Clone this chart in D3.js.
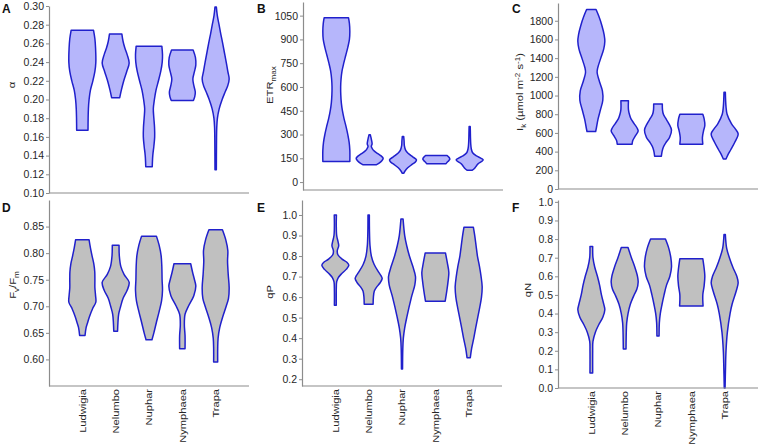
<!DOCTYPE html>
<html><head><meta charset="utf-8">
<script src="https://cdn.jsdelivr.net/npm/d3@7"></script>
<style>body{margin:0;background:#fff}svg{display:block}text{font-family:"Liberation Sans",Arial,Helvetica,sans-serif}</style>
</head><body>
<svg id="c" width="760" height="445"></svg>
<script>
const species = ["Ludwigia","Nelumbo","Nuphar","Nymphaea","Trapa"];

// Violin outlines: [value, relative half-width], read top to bottom
const alphaProfiles = [
  [[0.274,0.83],[0.265,0.93],[0.255,0.98],[0.24,1.0],[0.23,0.93],[0.22,0.78],[0.21,0.6],[0.20,0.5],[0.19,0.45],[0.18,0.43],[0.167,0.42]],
  [[0.270,0.46],[0.262,0.55],[0.255,0.68],[0.248,0.85],[0.239,1.0],[0.23,0.82],[0.22,0.6],[0.21,0.42],[0.202,0.3]],
  [[0.257,0.95],[0.248,1.0],[0.24,0.98],[0.23,0.87],[0.22,0.7],[0.21,0.52],[0.20,0.4],[0.19,0.32],[0.18,0.36],[0.17,0.41],[0.16,0.42],[0.15,0.36],[0.14,0.28],[0.128,0.24]],
  [[0.253,0.8],[0.245,0.97],[0.237,1.0],[0.23,0.9],[0.222,0.78],[0.215,0.85],[0.208,0.96],[0.203,0.92],[0.199,0.82]],
  [[0.299,0.05],[0.29,0.12],[0.28,0.25],[0.27,0.38],[0.26,0.52],[0.25,0.65],[0.24,0.78],[0.23,0.9],[0.222,1.0],[0.215,0.9],[0.208,0.7],[0.20,0.48],[0.19,0.26],[0.18,0.13],[0.17,0.08],[0.15,0.06],[0.125,0.05]]
];
const etrProfiles = [
  [[1037,0.9],[1000,0.97],[950,1.0],[900,0.97],[850,0.85],[800,0.7],[750,0.55],[700,0.42],[650,0.35],[600,0.32],[550,0.33],[500,0.37],[450,0.45],[400,0.57],[350,0.72],[300,0.85],[250,0.95],[200,1.0],[130,1.0]],
  [[298,0.05],[280,0.1],[260,0.15],[240,0.18],[225,0.12],[210,0.2],[195,0.35],[180,0.6],[165,0.85],[150,1.0],[135,0.9],[120,0.7],[109,0.48]],
  [[288,0.05],[260,0.08],[230,0.1],[200,0.2],[180,0.4],[160,0.7],[140,1.0],[125,0.9],[110,0.65],[90,0.35],[70,0.15],[55,0.05]],
  [[168,0.8],[155,0.95],[145,1.0],[135,0.92],[125,0.8],[116,0.72]],
  [[351,0.04],[320,0.05],[280,0.06],[240,0.08],[210,0.12],[185,0.22],[165,0.5],[150,0.85],[140,1.0],[128,0.85],[115,0.62],[100,0.48],[85,0.35],[75,0.2]]
];
const ikProfiles = [
  [[1920,0.35],[1850,0.55],[1750,0.78],[1650,0.95],[1580,1.0],[1500,0.92],[1400,0.7],[1300,0.48],[1250,0.43],[1150,0.6],[1050,0.82],[950,0.85],[850,0.68],[750,0.5],[650,0.37],[615,0.32]],
  [[945,0.28],[850,0.28],[800,0.35],[750,0.47],[700,0.7],[650,0.93],[620,1.0],[570,0.8],[520,0.6],[480,0.55]],
  [[910,0.32],[850,0.33],[800,0.4],[760,0.55],[700,0.8],[630,1.0],[550,0.85],[500,0.6],[450,0.4],[400,0.3],[350,0.25]],
  [[800,0.85],[750,0.95],[680,1.0],[620,0.9],[550,0.82],[480,0.85]],
  [[1035,0.05],[950,0.07],[880,0.1],[800,0.18],[700,0.5],[640,0.8],[590,1.0],[500,0.75],[420,0.45],[360,0.22],[320,0.1]]
];
const fvfmProfiles = [
  [[0.825,0.5],[0.81,0.6],[0.795,0.72],[0.78,0.85],[0.765,0.92],[0.75,0.93],[0.735,0.93],[0.72,0.98],[0.708,1.0],[0.695,0.75],[0.68,0.52],[0.67,0.4],[0.66,0.28],[0.645,0.2]],
  [[0.815,0.25],[0.795,0.27],[0.775,0.38],[0.76,0.62],[0.745,1.0],[0.73,0.85],[0.715,0.55],[0.70,0.37],[0.685,0.22],[0.67,0.17],[0.653,0.14]],
  [[0.832,0.55],[0.815,0.75],[0.795,0.9],[0.775,0.95],[0.75,0.97],[0.73,1.0],[0.71,0.93],[0.69,0.75],[0.67,0.55],[0.65,0.36],[0.637,0.22]],
  [[0.78,0.62],[0.765,0.75],[0.75,0.9],[0.738,1.0],[0.72,0.85],[0.70,0.45],[0.685,0.2],[0.665,0.15],[0.645,0.2],[0.62,0.2]],
  [[0.844,0.5],[0.825,0.75],[0.805,0.9],[0.785,0.88],[0.76,0.93],[0.735,1.0],[0.715,0.95],[0.70,0.78],[0.68,0.52],[0.66,0.3],[0.64,0.18],[0.62,0.15],[0.595,0.15]]
];
const qpProfiles = [
  [[1.0,0.08],[0.95,0.07],[0.9,0.1],[0.87,0.2],[0.85,0.25],[0.825,0.14],[0.805,0.2],[0.785,0.5],[0.77,0.85],[0.755,1.0],[0.735,0.8],[0.715,0.48],[0.695,0.22],[0.675,0.1],[0.63,0.07],[0.56,0.07]],
  [[1.0,0.05],[0.92,0.06],[0.85,0.1],[0.8,0.2],[0.76,0.4],[0.72,0.75],[0.70,0.95],[0.69,1.0],[0.67,0.85],[0.65,0.6],[0.63,0.42],[0.60,0.35],[0.565,0.33]],
  [[0.98,0.08],[0.9,0.2],[0.85,0.35],[0.8,0.55],[0.75,0.8],[0.70,1.0],[0.66,0.95],[0.6,0.7],[0.5,0.35],[0.45,0.2],[0.4,0.1],[0.35,0.06],[0.25,0.04]],
  [[0.815,0.75],[0.77,0.88],[0.72,1.0],[0.68,0.95],[0.63,0.85],[0.58,0.73]],
  [[0.94,0.35],[0.9,0.45],[0.85,0.55],[0.8,0.65],[0.75,0.8],[0.70,0.92],[0.65,1.0],[0.6,0.95],[0.55,0.82],[0.5,0.67],[0.45,0.52],[0.4,0.38],[0.35,0.22],[0.305,0.12]]
];
const qnProfiles = [
  [[0.76,0.1],[0.7,0.12],[0.65,0.25],[0.6,0.45],[0.55,0.62],[0.5,0.75],[0.45,0.92],[0.42,1.0],[0.38,0.85],[0.34,0.55],[0.3,0.3],[0.25,0.12],[0.2,0.1],[0.08,0.1]],
  [[0.755,0.25],[0.7,0.5],[0.65,0.75],[0.6,0.95],[0.57,1.0],[0.53,0.9],[0.5,0.7],[0.45,0.42],[0.4,0.25],[0.35,0.15],[0.3,0.12],[0.21,0.1]],
  [[0.8,0.55],[0.75,0.8],[0.7,0.95],[0.65,1.0],[0.6,0.88],[0.55,0.62],[0.5,0.45],[0.45,0.3],[0.4,0.17],[0.35,0.1],[0.28,0.08]],
  [[0.695,0.85],[0.63,0.97],[0.6,1.0],[0.55,0.95],[0.5,0.85],[0.44,0.87]],
  [[0.825,0.05],[0.75,0.15],[0.7,0.35],[0.65,0.6],[0.6,0.9],[0.565,1.0],[0.52,0.85],[0.45,0.55],[0.4,0.4],[0.3,0.2],[0.2,0.1],[0.1,0.06],[0.0,0.03]]
];

const alphaTicks = [0.10,0.12,0.14,0.16,0.18,0.20,0.22,0.24,0.26,0.28,0.30];
const etrTicks = [0,150,300,450,600,750,900,1050];
const ikTicks = [0,200,400,600,800,1000,1200,1400,1600,1800];
const fvfmTicks = [0.60,0.65,0.70,0.75,0.80,0.85];
const qpTicks = [0.2,0.3,0.4,0.5,0.6,0.7,0.8,0.9,1.0];
const qnTicks = [0.0,0.1,0.2,0.3,0.4,0.5,0.6,0.7,0.8,0.9,1.0];

const topFill = "#b6b6fb", botFill = "#c0c0c0", strokeCol = "#2020cc", axisCol = "#8c8c8c";

const panels = [
  {letter:"A", data:alphaProfiles, ticks:alphaTicks, fmt:".2f", domain:[0.10,0.30], range:[193,6], left:49, right:249, fill:topFill,
   lx:2, ly:13, title:[["α",0]], tx:15, ty:85, labels:false},
  {letter:"B", data:etrProfiles, ticks:etrTicks, fmt:"d", domain:[-50,1136], range:[190,2], left:303, right:503, fill:topFill,
   lx:257, ly:13, title:[["ETR",0],["max",1]], tx:273, ty:85, labels:false},
  {letter:"C", data:ikProfiles, ticks:ikTicks, fmt:"d", domain:[0,1990], range:[189,3], left:558, right:758, fill:topFill,
   lx:512, ly:13, title:[["I",0],["k",1],[" (µmol m",0],["-2",-1],[" s",0],["-1",-1],[")",0]], tx:523, ty:92, labels:false},
  {letter:"D", data:fvfmProfiles, ticks:fvfmTicks, fmt:".2f", domain:[0.55,0.90], range:[386,200], left:49, right:249, fill:botFill,
   lx:2, ly:212, title:[["F",0],["v",1],["/F",0],["m",1]], tx:16, ty:285, labels:true},
  {letter:"E", data:qpProfiles, ticks:qpTicks, fmt:".1f", domain:[0.167,1.073], range:[386,200], left:302, right:502, fill:botFill,
   lx:257, ly:212, title:[["qP",0]], tx:273, ty:292, labels:true},
  {letter:"F", data:qnProfiles, ticks:qnTicks, fmt:".1f", domain:[0,1.01], range:[388,200], left:558, right:758, fill:botFill,
   lx:512, ly:212, title:[["qN",0]], tx:531, ty:290, labels:true}
];

const svg = d3.select("#c");
const wScale = d3.scaleLinear().domain([0,1]).range([0,13.5]);

panels.forEach(p => {
  const g = svg.append("g");
  const y = d3.scaleLinear().domain(p.domain).range(p.range);
  const x = d3.scalePoint().domain(species).range([p.left, p.right]).padding(1);
  const bottom = p.range[0];

  // violins
  p.data.forEach((prof, i) => {
    const cx = x(species[i]);
    const area = d3.area()
      .y(d => y(d[0]))
      .x0(d => cx - wScale(d[1]))
      .x1(d => cx + wScale(d[1]))
      .curve(d3.curveCatmullRom.alpha(0.5));
    g.append("path").attr("d", area(prof))
      .attr("fill", p.fill).attr("stroke", strokeCol).attr("stroke-width", 1.5)
      .attr("stroke-linejoin", "round");
  });

  // y axis
  const ax = g.append("g").attr("transform", `translate(${p.left},0)`)
    .call(d3.axisLeft(y).tickValues(p.ticks).tickFormat(d3.format(p.fmt)).tickSize(3).tickPadding(2).tickSizeOuter(0));
  ax.select(".domain").attr("stroke", axisCol).attr("stroke-width", 1.2);
  ax.selectAll(".tick line").attr("stroke", axisCol);
  ax.selectAll(".tick text").attr("fill", "#262626").style("font-size", "10.5px").style("font-family", '"Liberation Sans",Arial,sans-serif');

  // x axis line
  g.append("line").attr("x1", p.left).attr("x2", p.right).attr("y1", bottom).attr("y2", bottom)
    .attr("stroke", axisCol).attr("stroke-width", 1.2);

  // category labels
  if (p.labels) {
    species.forEach(s => {
      g.append("text")
        .attr("transform", `translate(${x(s)+3.3},${bottom+3}) rotate(-90) scale(1.17,1)`)
        .attr("text-anchor", "end")
        .attr("fill", "#262626")
        .style("font-size", "9.5px")
        .text(s);
    });
  }

  // panel letter
  g.append("text").attr("x", p.lx).attr("y", p.ly).style("font-size", "12px").style("font-weight", "bold")
    .attr("fill", "#111").text(p.letter);

  // y title
  const t = g.append("text")
    .attr("transform", `translate(${p.tx},${p.ty}) rotate(-90) scale(1.25,1)`)
    .attr("text-anchor", "middle").attr("fill", "#262626").style("font-size", "9px");
  let shift = 0;
  p.title.forEach(([txt, kind]) => {
    const target = kind === 1 ? 2.5 : (kind === -1 ? -3.5 : 0);
    t.append("tspan").attr("dy", target - shift).style("font-size", kind ? "6.5px" : "9px").text(txt);
    shift = target;
  });
});
</script>
</body></html>
